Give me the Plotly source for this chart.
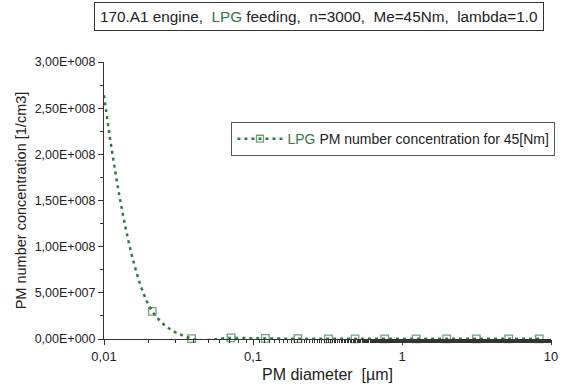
import plotly.graph_objects as go

diameter_um = [0.01, 0.0211, 0.0387, 0.0712, 0.121, 0.200, 0.321, 0.484, 0.765, 1.245, 1.995, 3.15, 5.2, 8.34]
concentration = [2.64e8, 3.0e7, 4e5, 1.2e6, 6e5, 3e5, 2e5, 2e5, 2e5, 2e5, 2e5, 2e5, 2e5, 2e5]
marker_sizes = [0] + [7.5] * (len(diameter_um) - 1)

y_tickvals = [0, 5e7, 1e8, 1.5e8, 2e8, 2.5e8, 3e8]
y_ticktext = ["0,00E+000", "5,00E+007", "1,00E+008", "1,50E+008", "2,00E+008", "2,50E+008", "3,00E+008"]
x_tickvals = [0.01, 0.1, 1, 10]
x_ticktext = ["0,01", "0,1", "1", "10"]

green = "#2f7a45"
FONT = "Liberation Sans, Arial, sans-serif"

fig = go.Figure()
fig.add_trace(go.Scatter(
    x=diameter_um, y=concentration,
    mode="lines+markers",
    line=dict(color=green, width=2.5, dash="3px,4px", shape="spline", smoothing=1.0),
    marker=dict(symbol="square-open", size=marker_sizes, color=green, line=dict(width=1.3, color=green)),
    cliponaxis=False,
    name="<span style='color:#2f7a45'>LPG</span> PM number concentration for 45[Nm]",
    showlegend=True,
))

fig.update_layout(
    width=567, height=392,
    margin=dict(l=104, r=9, t=62, b=53),
    plot_bgcolor="white", paper_bgcolor="white",
    font=dict(family=FONT, color="#222", size=12),
    showlegend=True,
    legend=dict(
        x=1.01, y=0.783, xanchor="right", yanchor="top",
        bordercolor="#555", borderwidth=1, bgcolor="white",
        font=dict(size=14, color="#222", family=FONT),
        itemwidth=45,
    ),
    xaxis=dict(
        type="log", range=[-2, 1],
        tickvals=x_tickvals, ticktext=x_ticktext,
        ticks="outside", ticklen=5, tickcolor="#333",
        showline=True, linecolor="#333", linewidth=1,
        showgrid=False, zeroline=False,
        minor=dict(ticks="outside", ticklen=3, tickcolor="#333", showgrid=False),
        tickfont=dict(size=13, color="#222"),
        title=dict(text="PM diameter  [µm]", font=dict(size=16, color="#222"), standoff=6),
    ),
    yaxis=dict(
        range=[0, 3e8],
        tickvals=y_tickvals, ticktext=y_ticktext,
        ticks="outside", ticklen=5, tickcolor="#333",
        showline=True, linecolor="#333", linewidth=1,
        showgrid=False, zeroline=False,
        minor=dict(ticks="outside", ticklen=3, tickcolor="#333", dtick=2.5e7, showgrid=False),
        tickfont=dict(size=12.5, color="#222"),
        title=dict(text="PM number concentration [1/cm3]", font=dict(size=14.5, color="#222"), standoff=4),
    ),
    annotations=[dict(
        xref="paper", yref="paper", x=0.482, y=1.163, xanchor="center", yanchor="middle",
        text="170.A1 engine,  <span style='color:#2f7a45'>LPG</span> feeding,  n=3000,  Me=45Nm,  lambda=1.0",
        showarrow=False, font=dict(size=15.3, color="#222", family=FONT),
        bordercolor="#333", borderwidth=1, borderpad=5, bgcolor="white",
    )],
)

fig.write_html("out.html")
